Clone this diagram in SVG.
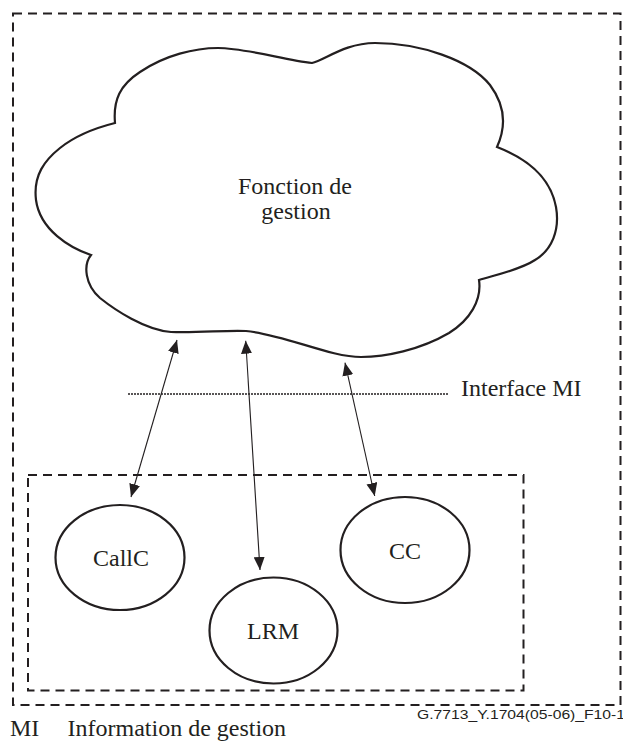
<svg xmlns="http://www.w3.org/2000/svg" width="623" height="747" viewBox="0 0 623 747">
<style>
.dash{fill:none;stroke:#231f20;stroke-width:2;stroke-dasharray:9 6}
.shape{fill:none;stroke:#231f20;stroke-width:2.2}
.conn{stroke:#231f20;stroke-width:1.1;fill:none;marker-start:url(#ah);marker-end:url(#ah)}
text{fill:#231f20}
.c{text-anchor:middle}
</style>
<defs>
<marker id="ah" viewBox="0 0 13 11" refX="13" refY="5.5" markerWidth="13" markerHeight="11" markerUnits="userSpaceOnUse" orient="auto-start-reverse">
<path d="M0,0 L13,5.5 L0,11 Z" fill="#231f20"/>
</marker>
</defs>
<rect width="623" height="747" fill="#fff"/>
<g id="outer"><rect class="dash" x="13" y="13.5" width="607.5" height="691.5"/></g>
<g id="mi-group"><rect class="dash" x="28" y="475" width="495.5" height="215.5"/></g>
<g id="cloud" font-family="Liberation Serif, DejaVu Serif, serif" font-size="24">
<path class="shape" d="M115,123 C113,100 120,85 140,72 C165,55 195,48 218,48 C245,48 285,60 312,63 C325,60 345,43 375,43 C420,43 470,60 490,85 C505,105 507,125 497,147 C525,158 550,175 556,207 C560,230 552,250 535,260 C520,270 495,275 479,280 C482,300 470,320 449,333 C420,350 385,357 361,357 C330,357 285,335 246,331 C225,330 200,333 171,332 C145,330 115,310 100,298 C85,285 83,265 91,255 C70,248 40,230 36,200 C33,175 45,160 60,148 C75,136 95,128 115,123 Z"/>
<text class="c" x="295" y="194">Fonction de</text>
<text class="c" x="296" y="219">gestion</text>
</g>
<g id="interface" font-family="Liberation Serif, DejaVu Serif, serif" font-size="24">
<line x1="128" y1="394" x2="448" y2="394" stroke="#231f20" stroke-width="1.3" stroke-dasharray="2 1"/>
<text x="461" y="396">Interface MI</text>
</g>
<g id="callc" font-family="Liberation Serif, DejaVu Serif, serif" font-size="24"><ellipse class="shape" cx="120" cy="557.5" rx="64.5" ry="52.5"/><text class="c" x="121" y="566">CallC</text></g>
<g id="lrm" font-family="Liberation Serif, DejaVu Serif, serif" font-size="24"><ellipse class="shape" cx="273.5" cy="630.5" rx="64" ry="53"/><text class="c" x="273" y="639">LRM</text></g>
<g id="cc" font-family="Liberation Serif, DejaVu Serif, serif" font-size="24"><ellipse class="shape" cx="405" cy="550" rx="64.5" ry="53"/><text class="c" x="405" y="559">CC</text></g>
<g id="connectors">
<line class="conn" x1="177" y1="340" x2="131" y2="497"/>
<line class="conn" x1="245.7" y1="340.7" x2="260" y2="570"/>
<line class="conn" x1="345" y1="362.7" x2="374.7" y2="496"/>
</g>
<text x="417" y="719" font-family="Liberation Sans, Arial, sans-serif" font-size="13.5" textLength="208" lengthAdjust="spacingAndGlyphs">G.7713_Y.1704(05-06)_F10-1</text>
<g font-family="Liberation Serif, DejaVu Serif, serif" font-size="24">
<text x="10" y="736">MI</text>
<text x="67.5" y="736">Information de gestion</text>
</g>
</svg>
